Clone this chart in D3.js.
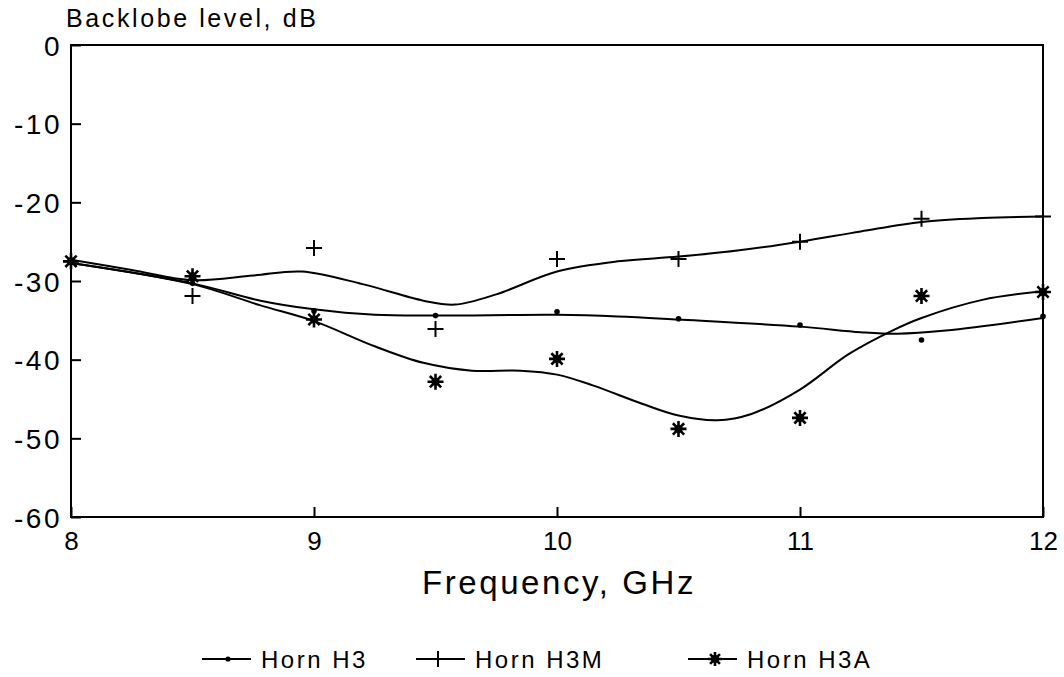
<!DOCTYPE html>
<html>
<head>
<meta charset="utf-8">
<script src="https://cdn.jsdelivr.net/npm/d3@7"></script>
<style>
  html, body { margin: 0; padding: 0; background: #fff; }
  svg { display: block; }
  text { font-family: "Liberation Sans", Arial, sans-serif; fill: #000; }
</style>
</head>
<body>
<svg id="chart" width="1064" height="677"></svg>
<script>
// Measured frequencies (GHz)
const freqs = [8, 8.5, 9, 9.5, 10, 10.5, 11, 11.5, 12];

// Measured backlobe levels (dB) for each horn
const h3Points  = [-27.6, -30.3, -33.8, -34.4, -33.9, -34.8, -35.6, -37.5, -34.5];
const h3mPoints = [-27.5, -31.9, -25.8, -36.1, -27.2, -27.2, -25.0, -22.1, -21.8];
const h3aPoints = [-27.5, -29.4, -34.9, -42.8, -39.9, -48.8, -47.4, -31.9, -31.4];

// Smoothed fit curves: [frequency, level] knots
const h3Fit = [[8, -27.7], [8.5, -30.3], [8.78, -32.5], [9.0, -33.6], [9.25, -34.3], [9.5, -34.4],
  [10.0, -34.3], [10.25, -34.5], [10.5, -34.9], [11.0, -35.8], [11.25, -36.5], [11.4, -36.7],
  [11.6, -36.3], [12.0, -34.7]];
const h3mFit = [[8, -27.3], [8.25, -28.6], [8.5, -29.9], [8.75, -29.3], [8.95, -28.8], [9.2, -30.4],
  [9.45, -32.5], [9.58, -33.0], [9.75, -31.7], [10.0, -28.8], [10.25, -27.5], [10.5, -26.9],
  [10.75, -26.1], [11.0, -25.0], [11.25, -23.7], [11.5, -22.5], [11.75, -22.0], [12.0, -21.8]];
const h3aFit = [[8, -27.7], [8.5, -30.4], [8.78, -33.1], [9.0, -35.1], [9.25, -38.3], [9.45, -40.4],
  [9.65, -41.4], [9.85, -41.4], [10.0, -41.9], [10.15, -43.3], [10.35, -45.6], [10.5, -47.1],
  [10.66, -47.7], [10.8, -46.9], [11.0, -43.8], [11.2, -39.3], [11.38, -36.3], [11.5, -34.7],
  [11.75, -32.4], [12.0, -31.3]];

// Axis ticks
const xTicks = [8, 9, 10, 11, 12];
const yTicks = [0, -10, -20, -30, -40, -50, -60];

const legendLabels = ["Horn H3", "Horn H3M", "Horn H3A"];

const svg = d3.select("#chart");
const plot = { left: 71, right: 1043, top: 45, bottom: 517 };

const x = d3.scaleLinear().domain([8, 12]).range([plot.left, plot.right]);
const y = d3.scaleLinear().domain([-60, 0]).range([plot.bottom, plot.top]);

// Frame around the plot
svg.append("rect")
  .attr("x", plot.left).attr("y", plot.top)
  .attr("width", plot.right - plot.left).attr("height", plot.bottom - plot.top)
  .attr("fill", "none").attr("stroke", "#000").attr("stroke-width", 2);

// Y axis: inward ticks, labels to the left
const yAxis = d3.axisLeft(y).tickValues(yTicks).tickSize(-10).tickPadding(9)
  .tickFormat(d => d === 0 ? "0" : "-" + Math.abs(d));
const gy = svg.append("g").attr("transform", `translate(${plot.left},0)`).call(yAxis);
gy.select(".domain").remove();
gy.selectAll(".tick line").attr("stroke", "#000").attr("stroke-width", 2);
gy.selectAll(".tick text").attr("font-size", 28).attr("letter-spacing", 2.5)
  .attr("font-family", "'Liberation Sans', Arial, sans-serif").attr("fill", "#000")
  .attr("dy", "0.36em");

// X axis: inward ticks, labels below
const xAxis = d3.axisBottom(x).tickValues(xTicks).tickSize(-10).tickPadding(15)
  .tickFormat(d3.format("d"));
const gx = svg.append("g").attr("transform", `translate(0,${plot.bottom})`).call(xAxis);
gx.select(".domain").remove();
gx.selectAll(".tick line").attr("stroke", "#000").attr("stroke-width", 2);
gx.selectAll(".tick text").attr("font-size", 26)
  .attr("font-family", "'Liberation Sans', Arial, sans-serif").attr("fill", "#000");

// Axis titles
svg.append("text").attr("x", 66).attr("y", 27).attr("font-size", 25).attr("letter-spacing", 2.6)
  .text("Backlobe level, dB");
svg.append("text").attr("x", (plot.left + plot.right) / 2 + 2).attr("y", 594)
  .attr("text-anchor", "middle").attr("font-size", 33).attr("letter-spacing", 2.6)
  .text("Frequency, GHz");

// Fit curves
const line = d3.line().x(d => x(d[0])).y(d => y(d[1])).curve(d3.curveCatmullRom.alpha(0.5));
[h3Fit, h3mFit, h3aFit].forEach(fit => {
  svg.append("path").datum(fit).attr("d", line)
    .attr("fill", "none").attr("stroke", "#000").attr("stroke-width", 2);
});

// Marker drawing helpers
function drawDot(g, cx, cy, r = 2.8) {
  g.append("circle").attr("cx", cx).attr("cy", cy).attr("r", r).attr("fill", "#000");
}
function drawPlus(g, cx, cy, s = 8) {
  g.append("path").attr("d", `M${cx - s},${cy}H${cx + s}M${cx},${cy - s}V${cy + s}`)
    .attr("stroke", "#000").attr("stroke-width", 2).attr("fill", "none");
}
function drawStar(g, cx, cy, r = 8) {
  let d = "";
  for (let i = 0; i < 4; i++) {
    const a = i * Math.PI / 4;
    const dx = r * Math.sin(a), dy = r * Math.cos(a);
    d += `M${cx - dx},${cy - dy}L${cx + dx},${cy + dy}`;
  }
  g.append("path").attr("d", d).attr("stroke", "#000").attr("stroke-width", 2.6)
    .attr("fill", "none");
  g.append("circle").attr("cx", cx).attr("cy", cy).attr("r", 4).attr("fill", "#000");
}

const marks = svg.append("g");
freqs.forEach((f, i) => drawDot(marks, x(f), y(h3Points[i])));
freqs.forEach((f, i) => drawPlus(marks, x(f), y(h3mPoints[i])));
freqs.forEach((f, i) => drawStar(marks, x(f), y(h3aPoints[i])));

// Legend
const legendItems = [
  { x0: 202, draw: drawDot },
  { x0: 416, draw: drawPlus },
  { x0: 688, draw: drawStar }
];
const ly = 659;
legendItems.forEach((item, i) => {
  const g = svg.append("g");
  g.append("line").attr("x1", item.x0).attr("x2", item.x0 + 49)
    .attr("y1", ly).attr("y2", ly).attr("stroke", "#000").attr("stroke-width", 2);
  if (i === 0) item.draw(g, item.x0 + 26, ly, 2.6);
  else if (i === 1) item.draw(g, item.x0 + 22, ly, 8);
  else item.draw(g, item.x0 + 27, ly, 7);
  g.append("text").attr("x", item.x0 + 59).attr("y", ly + 9)
    .attr("font-size", 24).attr("letter-spacing", 2.5).text(legendLabels[i]);
});
</script>
</body>
</html>
